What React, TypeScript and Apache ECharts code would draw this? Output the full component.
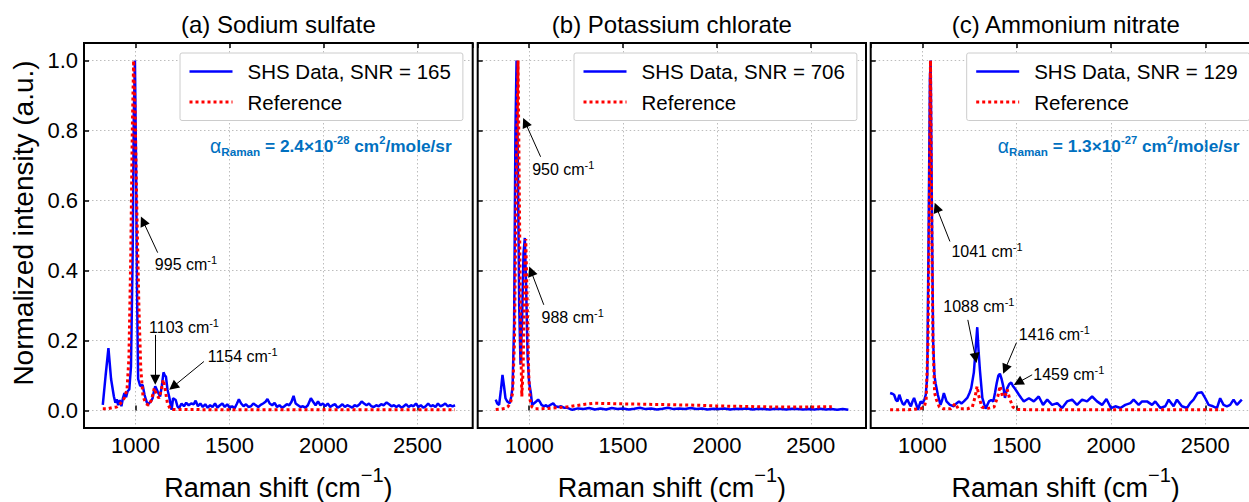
import React, { useEffect, useRef } from 'react';
import * as echarts from 'echarts';

const FONT = '"Liberation Sans", Arial, Helvetica, sans-serif';

const panelTitles = ['(a) Sodium sulfate', '(b) Potassium chlorate', '(c) Ammonium nitrate'];
const shsNames = ['SHS Data, SNR = 165', 'SHS Data, SNR = 706', 'SHS Data, SNR = 129'];
const refName = 'Reference';
const yAxisTitle = 'Normalized intensity (a.u.)';
const xAxisTitle = '{t|Raman shift (cm}{s|\u22121}{t|)}';
const xRange = [726, 2794];
const yRange = [-0.05, 1.05];

// Raman cross sections shown in panels (a) and (c)
const crossSections = [
  { mantissa: '2.4', exponent: '-28' },
  null,
  { mantissa: '1.3', exponent: '-27' },
];

// (a) Sodium sulfate
const sodiumShs: [number, number][] = [
  [826, 0.016], [841, 0.1], [856, 0.178], [870, 0.09], [885, 0.04], [893, 0.022], [900, 0.032],
  [908, 0.015], [916, 0.03], [925, 0.012], [933, 0.035], [941, 0.05], [950, 0.038], [958, 0.055],
  [967, 0.06], [976, 0.126], [985, 0.45], [991, 0.85], [997, 1.0], [1003, 0.7], [1008, 0.35],
  [1014, 0.09], [1025, 0.07], [1038, 0.073], [1048, 0.045], [1056, 0.03], [1065, 0.016],
  [1074, 0.022], [1082, 0.026], [1091, 0.035], [1098, 0.055], [1105, 0.069], [1118, 0.054],
  [1131, 0.04], [1140, 0.07], [1149, 0.109], [1156, 0.1], [1162, 0.097], [1170, 0.06],
  [1179, 0.04], [1186, 0.02], [1192, 0.002], [1200, 0.035], [1214, 0.03], [1223, 0.012],
  [1232, 0.007], [1245, 0.02], [1258, 0.012], [1270, 0.022], [1283, 0.015], [1296, 0.02],
  [1310, 0.018], [1320, 0.028], [1332, 0.012], [1345, 0.02], [1358, 0.01], [1371, 0.018],
  [1384, 0.008], [1397, 0.015], [1410, 0.01], [1423, 0.02], [1436, 0.008], [1449, 0.015],
  [1462, 0.02], [1475, 0.01], [1488, 0.018], [1501, 0.008], [1514, 0.012], [1527, 0.006],
  [1540, 0.02], [1550, 0.032], [1562, 0.02], [1575, 0.012], [1588, 0.018], [1601, 0.01],
  [1614, 0.012], [1627, 0.02], [1640, 0.015], [1653, 0.01], [1666, 0.016], [1679, 0.02],
  [1692, 0.025], [1702, 0.033], [1714, 0.02], [1727, 0.015], [1740, 0.022], [1753, 0.01],
  [1766, 0.015], [1779, 0.008], [1792, 0.012], [1805, 0.018], [1818, 0.015], [1830, 0.025],
  [1841, 0.042], [1852, 0.02], [1865, 0.015], [1878, 0.01], [1891, 0.012], [1904, 0.008],
  [1917, 0.015], [1933, 0.035], [1945, 0.025], [1958, 0.015], [1971, 0.026], [1984, 0.015],
  [1997, 0.02], [2010, 0.012], [2023, 0.02], [2036, 0.01], [2049, 0.015], [2062, 0.018],
  [2075, 0.008], [2088, 0.012], [2101, 0.018], [2114, 0.01], [2127, 0.015], [2140, 0.012],
  [2153, 0.008], [2166, 0.015], [2179, 0.012], [2192, 0.018], [2203, 0.026], [2216, 0.02],
  [2229, 0.015], [2242, 0.02], [2255, 0.012], [2268, 0.01], [2281, 0.015], [2294, 0.012],
  [2307, 0.018], [2320, 0.015], [2336, 0.023], [2349, 0.018], [2362, 0.012], [2375, 0.015],
  [2388, 0.01], [2401, 0.015], [2414, 0.008], [2427, 0.012], [2440, 0.018], [2453, 0.01],
  [2466, 0.015], [2479, 0.012], [2492, 0.02], [2505, 0.01], [2518, 0.015], [2531, 0.008],
  [2544, 0.012], [2557, 0.02], [2570, 0.012], [2583, 0.015], [2596, 0.01], [2609, 0.02],
  [2622, 0.012], [2635, 0.015], [2648, 0.02], [2661, 0.012], [2674, 0.015], [2687, 0.012],
  [2700, 0.015],
];
const sodiumRef: [number, number][] = [
  [826, 0.005], [850, 0.005], [875, 0.008], [900, 0.01], [920, 0.02], [940, 0.035], [955, 0.06],
  [965, 0.15], [975, 0.45], [983, 0.8], [990, 1.0], [998, 0.85], [1008, 0.55], [1018, 0.3],
  [1028, 0.12], [1040, 0.04], [1055, 0.02], [1070, 0.015], [1085, 0.03], [1100, 0.064],
  [1112, 0.045], [1125, 0.035], [1138, 0.06], [1148, 0.088], [1158, 0.06], [1170, 0.02],
  [1185, 0.005], [1200, 0.003], [1500, 0.002], [2000, 0.002], [2500, 0.002], [2700, 0.002],
];

// (b) Potassium chlorate
const chlorateShs: [number, number][] = [
  [822, 0.031], [830, 0.02], [840, 0.016], [850, 0.06], [858, 0.102], [866, 0.07], [874, 0.035],
  [883, 0.026], [897, 0.021], [905, 0.04], [912, 0.069], [920, 0.25], [927, 0.8], [933, 1.0],
  [940, 0.7], [947, 0.3], [954, 0.131], [962, 0.25], [970, 0.45], [977, 0.493], [984, 0.35],
  [992, 0.15], [1000, 0.08], [1009, 0.05], [1016, 0.015], [1025, 0.02], [1036, 0.025],
  [1048, 0.031], [1057, 0.025], [1066, 0.016], [1078, 0.012], [1090, 0.015], [1100, 0.01],
  [1110, 0.015], [1120, 0.018], [1128, 0.021], [1140, 0.012], [1156, 0.01], [1170, 0.012],
  [1185, 0.008], [1200, 0.008], [1230, 0.002], [1260, 0.006], [1290, 0.004], [1320, 0.007],
  [1350, 0.003], [1380, 0.006], [1410, 0.003], [1440, 0.007], [1470, 0.004], [1500, 0.006],
  [1530, 0.003], [1560, 0.005], [1590, 0.008], [1620, 0.004], [1650, 0.006], [1680, 0.003],
  [1710, 0.005], [1740, 0.008], [1770, 0.004], [1800, 0.006], [1830, 0.004], [1860, 0.007],
  [1890, 0.004], [1920, 0.006], [1950, 0.003], [1980, 0.005], [2010, 0.004], [2040, 0.006],
  [2070, 0.003], [2100, 0.005], [2130, 0.004], [2160, 0.006], [2190, 0.003], [2220, 0.005],
  [2250, 0.004], [2280, 0.003], [2310, 0.005], [2340, 0.004], [2370, 0.003], [2400, 0.005],
  [2430, 0.004], [2460, 0.003], [2490, 0.004], [2520, 0.003], [2550, 0.005], [2580, 0.003],
  [2610, 0.004], [2640, 0.002], [2670, 0.004], [2700, 0.002],
];
const chlorateRef: [number, number][] = [
  [822, 0.003], [850, 0.004], [870, 0.006], [885, 0.01], [900, 0.02], [912, 0.05], [922, 0.2],
  [932, 0.7], [941, 1.0], [948, 0.6], [955, 0.2], [961, 0.04], [968, 0.12], [975, 0.35],
  [982, 0.49], [990, 0.3], [998, 0.1], [1005, 0.03], [1015, 0.01], [1030, 0.005], [1060, 0.005],
  [1100, 0.006], [1150, 0.008], [1200, 0.01], [1250, 0.014], [1300, 0.018], [1350, 0.021],
  [1400, 0.02], [1500, 0.019], [1600, 0.018], [1700, 0.017], [1800, 0.016], [1900, 0.015],
  [2000, 0.013], [2100, 0.012], [2200, 0.011], [2300, 0.01], [2400, 0.01], [2500, 0.01],
  [2612, 0.011],
];

// (c) Ammonium nitrate
const nitrateShs: [number, number][] = [
  [829, 0.05], [840, 0.048], [850, 0.045], [860, 0.03], [868, 0.026], [878, 0.045], [887, 0.03],
  [895, 0.02], [903, 0.016], [912, 0.025], [921, 0.031], [930, 0.02], [939, 0.012], [947, 0.025],
  [956, 0.036], [966, 0.02], [977, 0.002], [984, 0.015], [991, 0.026], [1000, 0.02], [1010, 0.03],
  [1018, 0.045], [1026, 0.1], [1033, 0.5], [1040, 0.95], [1044, 1.0], [1050, 0.6], [1057, 0.2],
  [1064, 0.1], [1070, 0.078], [1082, 0.045], [1096, 0.016], [1105, 0.03], [1114, 0.05],
  [1128, 0.026], [1146, 0.016], [1167, 0.012], [1180, 0.02], [1194, 0.026], [1207, 0.02],
  [1220, 0.026], [1238, 0.036], [1250, 0.05], [1259, 0.064], [1273, 0.109], [1283, 0.18],
  [1291, 0.238], [1298, 0.17], [1305, 0.116], [1318, 0.036], [1335, 0.005], [1353, 0.026],
  [1365, 0.03], [1376, 0.026], [1385, 0.05], [1394, 0.078], [1403, 0.1], [1411, 0.105],
  [1420, 0.09], [1429, 0.069], [1438, 0.036], [1444, 0.05], [1450, 0.064], [1460, 0.075],
  [1471, 0.08], [1480, 0.07], [1489, 0.064], [1500, 0.055], [1512, 0.045], [1525, 0.035],
  [1538, 0.026], [1550, 0.03], [1565, 0.035], [1591, 0.026], [1617, 0.04], [1640, 0.016],
  [1662, 0.031], [1688, 0.016], [1715, 0.021], [1741, 0.007], [1767, 0.026], [1794, 0.031],
  [1820, 0.016], [1847, 0.031], [1873, 0.026], [1900, 0.04], [1926, 0.026], [1953, 0.016],
  [1976, 0.033], [2000, 0.007], [2023, 0.012], [2050, 0.007], [2076, 0.016], [2103, 0.021],
  [2120, 0.031], [2147, 0.016], [2165, 0.026], [2191, 0.026], [2218, 0.016], [2235, 0.026],
  [2262, 0.007], [2288, 0.012], [2306, 0.031], [2332, 0.012], [2350, 0.031], [2376, 0.012],
  [2403, 0.007], [2420, 0.021], [2438, 0.031], [2459, 0.05], [2482, 0.052], [2500, 0.035],
  [2518, 0.016], [2541, 0.012], [2562, 0.007], [2579, 0.035], [2597, 0.016], [2615, 0.012],
  [2632, 0.016], [2650, 0.031], [2668, 0.016], [2685, 0.026], [2694, 0.031],
];
const nitrateRef: [number, number][] = [
  [829, 0.002], [900, 0.002], [950, 0.003], [990, 0.005], [1010, 0.01], [1020, 0.03], [1030, 0.2],
  [1037, 0.6], [1043, 1.0], [1049, 0.6], [1056, 0.2], [1065, 0.05], [1075, 0.03], [1090, 0.01],
  [1110, 0.005], [1150, 0.005], [1175, 0.02], [1190, 0.005], [1240, 0.005], [1265, 0.01],
  [1280, 0.04], [1290, 0.069], [1300, 0.04], [1315, 0.01], [1340, 0.005], [1380, 0.01],
  [1400, 0.04], [1412, 0.07], [1425, 0.04], [1440, 0.045], [1450, 0.06], [1462, 0.035],
  [1480, 0.01], [1500, 0.003], [1600, 0.002], [2000, 0.002], [2600, 0.002],
];

// Peak annotations: label, text anchor (left-middle), arrow tail, arrow head (data units)
const sodiumPeaks = [
  { label: '995', text: [1103, 0.417], tail: [1118, 0.451], head: [1040, 0.541] },
  { label: '1103', text: [1072, 0.236], tail: [1105, 0.216], head: [1105, 0.088] },
  { label: '1154', text: [1384, 0.154], tail: [1364, 0.14], head: [1200, 0.068] },
];
const chloratePeaks = [
  { label: '950', text: [1016, 0.69], tail: [1061, 0.725], head: [979, 0.823] },
  { label: '988', text: [1066, 0.267], tail: [1078, 0.302], head: [1010, 0.398] },
];
const nitratePeaks = [
  { label: '1041', text: [1154, 0.455], tail: [1146, 0.483], head: [1075, 0.58] },
  { label: '1088', text: [1111, 0.296], tail: [1241, 0.259], head: [1282, 0.15] },
  { label: '1416', text: [1511, 0.216], tail: [1499, 0.194], head: [1439, 0.118] },
  { label: '1459', text: [1588, 0.102], tail: [1582, 0.102], head: [1508, 0.08] },
];

const shsData = [sodiumShs, chlorateShs, nitrateShs];
const refData = [sodiumRef, chlorateRef, nitrateRef];
const peakData = [sodiumPeaks, chloratePeaks, nitratePeaks];

// layout (pixels)
const GRID_TOP = 43;
const GRID_HEIGHT = 385;
const grids = [
  { left: 84, width: 388.7 },
  { left: 477.7, width: 388.3 },
  { left: 870.7, width: 390 },
];
const legendLefts = [180, 574, 966.7];
const alphaLefts = [210, 0, 997.7];

const splitLineStyle = { color: '#bdbdbd', width: 1, type: [1.5, 2.5] };
const tickStyle = { show: true, inside: true, length: 5, lineStyle: { color: '#000', width: 1.5 } };

function buildOption() {
  const xBottom = grids.map((_, i) => ({
    type: 'value',
    gridIndex: i,
    position: 'bottom',
    min: xRange[0],
    max: xRange[1],
    splitNumber: 5,
    z: 1,
    axisLine: { show: false },
    axisTick: tickStyle,
    axisLabel: {
      show: true, fontSize: 22, color: '#000', margin: 6, fontFamily: FONT,
      showMinLabel: false, showMaxLabel: false,
      formatter: (v: number) => String(Math.round(v)),
    },
    splitLine: { show: true, lineStyle: splitLineStyle },
    name: xAxisTitle,
    nameLocation: 'middle',
    nameGap: 37,
    nameTextStyle: {
      color: '#000',
      fontFamily: FONT,
      rich: {
        t: { fontSize: 27, fontFamily: FONT, color: '#000' },
        s: { fontSize: 20, fontFamily: FONT, color: '#000', padding: [0, 0, 25, 0] },
      },
    },
  }));
  const xTop = grids.map((_, i) => ({
    type: 'value',
    gridIndex: i,
    position: 'top',
    min: xRange[0],
    max: xRange[1],
    splitNumber: 5,
    z: 1,
    axisLine: { show: false },
    axisTick: tickStyle,
    axisLabel: { show: false },
    splitLine: { show: false },
  }));
  const yAxes = grids.map((_, i) => ({
    type: 'value',
    gridIndex: i,
    min: yRange[0],
    max: yRange[1],
    splitNumber: 5,
    z: 1,
    axisLine: { show: false },
    axisTick: tickStyle,
    axisLabel: {
      show: i === 0, fontSize: 22, color: '#000', margin: 6, fontFamily: FONT,
      showMinLabel: false, showMaxLabel: false,
      formatter: (v: number) => v.toFixed(1),
    },
    splitLine: { show: true, lineStyle: splitLineStyle },
  }));

  const series: any[] = [];
  grids.forEach((_, i) => {
    series.push({
      type: 'line',
      name: shsNames[i],
      xAxisIndex: i,
      yAxisIndex: i,
      data: shsData[i],
      symbol: 'none',
      showSymbol: false,
      lineStyle: { color: '#0000ff', width: 2.5 },
      itemStyle: { color: '#0000ff' },
      emphasis: { disabled: true },
      z: 2,
      markLine: {
        silent: true,
        animation: false,
        symbol: ['none', 'triangle'],
        symbolSize: 10,
        lineStyle: { color: '#000', width: 1, type: 'solid' },
        label: { show: false },
        emphasis: { disabled: true },
        data: peakData[i].map((p) => [{ coord: p.tail }, { coord: p.head }]),
      },
      markPoint: {
        silent: true,
        animation: false,
        symbol: 'circle',
        symbolSize: 0,
        itemStyle: { color: 'transparent' },
        label: {
          show: true,
          position: 'right',
          distance: 0,
          formatter: (p: any) => `{n|${p.name} cm}{s|-1}`,
          rich: {
            n: { fontSize: 16, fontFamily: FONT, color: '#000' },
            s: { fontSize: 11, fontFamily: FONT, color: '#000', padding: [0, 0, 9, 0] },
          },
        },
        data: peakData[i].map((p) => ({ name: p.label, coord: p.text })),
      },
    });
    series.push({
      type: 'line',
      name: refName,
      xAxisIndex: i,
      yAxisIndex: i,
      data: refData[i],
      symbol: 'none',
      showSymbol: false,
      lineStyle: { color: '#ff0000', width: 3, type: [3, 3] },
      itemStyle: { color: '#ff0000' },
      emphasis: { disabled: true },
      z: 3,
    });
  });

  const legends = grids.map((_, i) => ({
    orient: 'vertical',
    left: legendLefts[i],
    top: 53,
    itemWidth: 43,
    itemHeight: 14,
    itemGap: 9.5,
    padding: [8, 12, 8, 8],
    backgroundColor: '#fff',
    borderColor: '#cccccc',
    borderWidth: 1,
    borderRadius: 2,
    selectedMode: false,
    textStyle: { fontSize: 20.5, fontFamily: FONT, color: '#000', padding: [0, 0, 0, 10] },
    itemStyle: { opacity: 0 },
    data: [
      { name: shsNames[i], lineStyle: { width: 2.5 } },
      { name: refName, lineStyle: { width: 3 } },
    ],
  }));

  const graphic: any[] = [];
  grids.forEach((g, i) => {
    graphic.push({
      type: 'text',
      x: g.left + g.width / 2,
      y: 24,
      silent: true,
      style: {
        text: panelTitles[i], fontSize: 24, fontFamily: FONT, fill: '#000',
        align: 'center', verticalAlign: 'middle',
      },
    });
    const cs = crossSections[i];
    if (cs) {
      graphic.push({
        type: 'text',
        x: alphaLefts[i],
        y: 146,
        silent: true,
        style: {
          text: `{a|\u03b1}{r|Raman}{m| = ${cs.mantissa}\u00d710}{s|${cs.exponent}}{m| cm}{s|2}{m|/mole/sr}`,
          fill: '#0070c0',
          align: 'left',
          verticalAlign: 'middle',
          fontFamily: FONT,
          fontSize: 17.3,
          rich: {
            a: { fontSize: 19.5, fontFamily: FONT, fill: '#0070c0' },
            r: { fontSize: 11.7, fontWeight: 'bold', fontFamily: FONT, fill: '#0070c0', padding: [11, 0, 0, 0] },
            m: { fontSize: 17.3, fontWeight: 'bold', fontFamily: FONT, fill: '#0070c0' },
            s: { fontSize: 11.2, fontWeight: 'bold', fontFamily: FONT, fill: '#0070c0', padding: [0, 0, 13, 0] },
          },
        },
      });
    }
  });
  graphic.push({
    type: 'text',
    x: 23.5,
    y: 223,
    rotation: Math.PI / 2,
    silent: true,
    style: {
      text: yAxisTitle, fontSize: 28, fontFamily: FONT, fill: '#000',
      align: 'center', verticalAlign: 'middle',
    },
  });

  return {
    animation: false,
    backgroundColor: '#ffffff',
    textStyle: { fontFamily: FONT },
    grid: grids.map((g) => ({
      left: g.left,
      top: GRID_TOP,
      width: g.width,
      height: GRID_HEIGHT,
      show: true,
      z: 10,
      borderColor: '#000',
      borderWidth: 2,
      backgroundColor: 'transparent',
      containLabel: false,
      outerBoundsMode: 'none',
    })),
    xAxis: [...xBottom, ...xTop],
    yAxis: yAxes,
    legend: legends,
    series,
    graphic,
  };
}

export default function App() {
  const ref = useRef<HTMLDivElement>(null);
  useEffect(() => {
    if (!ref.current) return;
    const chart = echarts.init(ref.current, undefined, { renderer: 'svg' });
    chart.setOption(buildOption() as any);
    return () => chart.dispose();
  }, []);
  return (
    <div
      style={{
        position: 'fixed', left: 0, top: 0, width: 1249, height: 502,
        overflow: 'hidden', background: '#fff',
      }}
    >
      <div ref={ref} style={{ width: 1270, height: 502 }} />
    </div>
  );
}
